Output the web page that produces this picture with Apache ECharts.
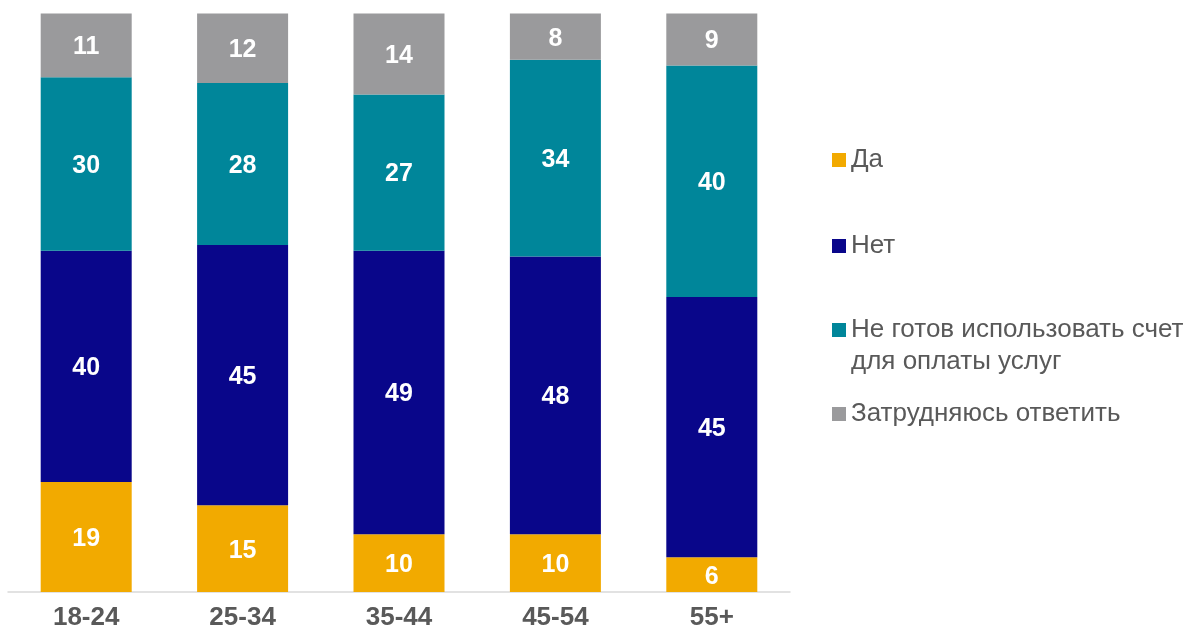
<!DOCTYPE html>
<html><head><meta charset="utf-8">
<script src="https://cdn.jsdelivr.net/npm/echarts@6/dist/echarts.min.js"></script>
<style>html,body{margin:0;padding:0;background:#fff}#c{width:1200px;height:635px}</style>
</head><body><div id="c"></div>
<script>
const categories = ['18-24', '25-34', '35-44', '45-54', '55+'];
const seriesNames = ['Да', 'Нет', 'Не готов использовать счет\nдля оплаты услуг', 'Затрудняюсь ответить'];
const yesValues = [19, 15, 10, 10, 6];
const noValues = [40, 45, 49, 48, 45];
const notReadyValues = [30, 28, 27, 34, 40];
const hardValues = [11, 12, 14, 8, 9];
const colors = ['#F2AA00', '#09068A', '#00869A', '#9A9A9C'];
const valuesList = [yesValues, noValues, notReadyValues, hardValues];

const font = '"Liberation Sans", Arial, sans-serif';
const chart = echarts.init(document.getElementById('c'), null, {renderer: 'canvas'});

const legendTops = [145, 231, 282, 399];
const legends = seriesNames.map((n, i) => ({
  data: [n],
  left: 832,
  top: legendTops[i],
  padding: 0,
  orient: 'vertical',
  itemWidth: 14,
  itemHeight: 14,
  icon: 'rect',
  selectedMode: false,
  formatter: name => (name.indexOf('\n') >= 0 ? '\n' + name : name),
  textStyle: {fontFamily: font, fontSize: 26, color: '#595959', lineHeight: i === 2 ? 32 : 30}
}));

chart.setOption({
  animation: false,
  color: colors,
  legend: legends,
  grid: {left: 8, right: 410, top: 13.5, bottom: 43},
  xAxis: {
    type: 'category',
    data: categories,
    axisTick: {show: false},
    axisLine: {lineStyle: {color: '#D9D9D9', width: 1.5}},
    axisLabel: {fontFamily: font, fontSize: 26, fontWeight: 'bold', color: '#595959', margin: 13}
  },
  yAxis: {type: 'value', min: 0, max: 100, show: false, splitLine: {show: false}},
  series: seriesNames.map((n, i) => ({
    name: n,
    type: 'bar',
    stack: 'total',
    barWidth: 91,
    data: valuesList[i],
    itemStyle: {color: colors[i]},
    label: {show: true, position: 'inside', color: '#fff', fontFamily: font, fontSize: 25, fontWeight: 'bold', offset: [0, 2]}
  }))
});
</script></body></html>
